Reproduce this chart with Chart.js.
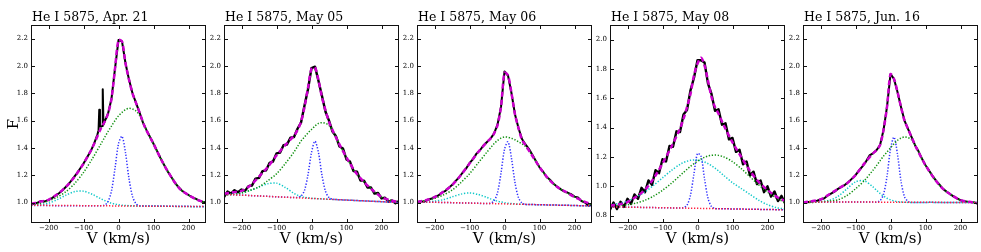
<!DOCTYPE html>
<html>
<head>
<meta charset="utf-8">
<script src="https://cdn.jsdelivr.net/npm/chart.js@4.4.0/dist/chart.umd.min.js"></script>
<style>
  html, body { margin: 0; padding: 0; background: #fff; }
  #wrap { position: relative; width: 981px; height: 252px; }
  #wrap canvas { position: absolute; left: 0; top: 0; }
</style>
</head>
<body>
<div id="wrap">
  <canvas id="p0" width="981" height="252"></canvas>
  <canvas id="p1" width="981" height="252"></canvas>
  <canvas id="p2" width="981" height="252"></canvas>
  <canvas id="p3" width="981" height="252"></canvas>
  <canvas id="p4" width="981" height="252"></canvas>
</div>
<script>
// panel titles
const TITLES = ['He I 5875, Apr. 21', 'He I 5875, May 05', 'He I 5875, May 06', 'He I 5875, May 08', 'He I 5875, Jun. 16'];
const Y_MIN = [0.85, 0.85, 0.85, 0.75, 0.85];
const Y_MAX = [2.3, 2.3, 2.3, 2.1, 2.3];
const X_TICKS = [-200, -100, 0, 100, 200];
const Y_TICKS = [1.0, 1.2, 1.4, 1.6, 1.8, 2.0, 2.2];
const Y_TICKS_MAY08 = [0.8, 1.0, 1.2, 1.4, 1.6, 1.8, 2.0];

// velocity grids (km/s)
const V_OBS = [-250, -240, -230, -220, -210, -200, -190, -180, -170, -160,
  -150, -140, -130, -120, -110, -100, -90, -80, -70, -60,
  -50, -40, -30, -20, -10, 0, 10, 20, 30, 40,
  50, 60, 70, 80, 90, 100, 110, 120, 130, 140,
  150, 160, 170, 180, 190, 200, 210, 220, 230, 240, 250];
const V_COMP = [-250, -225, -200, -175, -150, -125, -100, -75, -50, -40, -30, -20, -10, 0,
  10, 20, 30, 40, 50, 60, 75, 100, 125, 150, 175, 200, 225, 250];
const V_CONT = [-250, 250];

// observed profiles (black)
const OBS_APR21 = [0.985, 0.99, 1.0, 1.012, 1.008, 1.02, 1.032, 1.05, 1.068, 1.09,
  1.115, 1.143, 1.176, 1.21, 1.247, 1.285, 1.33, 1.373, 1.43, 1.50,
  1.555, 1.59, 1.65, 1.76, 1.98, 2.19, 2.18, 2.02, 1.90, 1.80,
  1.73, 1.66, 1.585, 1.53, 1.48, 1.43, 1.378, 1.325, 1.277, 1.23,
  1.19, 1.15, 1.117, 1.09, 1.07, 1.055, 1.04, 1.028, 1.015, 1.006, 1.0];
const SPIKES_APR21 = [[-57, 1.53], [-55, 1.68], [-53, 1.56], [-47, 1.56], [-45, 1.83], [-43, 1.57]];
const OBS_MAY05 = [1.04, 1.08, 1.065, 1.09, 1.075, 1.095, 1.085, 1.12, 1.125, 1.175,
  1.18, 1.23, 1.235, 1.29, 1.30, 1.36, 1.365, 1.42, 1.425, 1.475,
  1.48, 1.54, 1.585, 1.71, 1.83, 1.985, 1.995, 1.89, 1.78, 1.665,
  1.60, 1.52, 1.485, 1.41, 1.395, 1.315, 1.30, 1.23, 1.225, 1.16,
  1.16, 1.11, 1.11, 1.065, 1.07, 1.03, 1.035, 1.005, 1.015, 0.995, 1.01];
const OBS_MAY06 = [1.0, 1.01, 1.005, 1.02, 1.027, 1.04, 1.05, 1.07, 1.083, 1.107,
  1.128, 1.157, 1.183, 1.218, 1.248, 1.288, 1.318, 1.358, 1.383, 1.418,
  1.443, 1.468, 1.505, 1.57, 1.70, 1.96, 1.93, 1.80, 1.645, 1.545,
  1.465, 1.425, 1.392, 1.348, 1.302, 1.258, 1.227, 1.188, 1.167, 1.138,
  1.117, 1.098, 1.082, 1.073, 1.062, 1.043, 1.037, 1.01, 1.0, 0.977, 0.983];
const OBS_MAY08 = [0.84, 0.89, 0.845, 0.895, 0.86, 0.915, 0.88, 0.945, 0.915, 0.99,
  0.96, 1.04, 1.01, 1.11, 1.09, 1.185, 1.17, 1.275, 1.27, 1.375,
  1.37, 1.49, 1.52, 1.655, 1.74, 1.86, 1.86, 1.845, 1.70, 1.63,
  1.515, 1.525, 1.42, 1.43, 1.32, 1.33, 1.235, 1.25, 1.15, 1.17,
  1.075, 1.10, 1.015, 1.04, 0.96, 1.0, 0.93, 0.965, 0.9, 0.935, 0.885];
const OBS_JUN16 = [0.995, 1.0, 1.006, 1.01, 1.013, 1.022, 1.03, 1.05, 1.065, 1.08,
  1.10, 1.115, 1.13, 1.15, 1.175, 1.20, 1.235, 1.265, 1.30, 1.345,
  1.36, 1.383, 1.42, 1.53, 1.70, 1.94, 1.905, 1.81, 1.70, 1.60,
  1.54, 1.48, 1.42, 1.375, 1.32, 1.273, 1.235, 1.195, 1.16, 1.13,
  1.10, 1.08, 1.062, 1.045, 1.03, 1.017, 1.01, 1.005, 1.003, 1.0, 0.99];

// total fit (magenta dashed)
const FIT_APR21 = [0.99, 1.005, 1.02, 1.06, 1.115, 1.19, 1.285, 1.40, 1.545, 1.59, 1.65, 1.76, 1.98, 2.19, 2.18, 2.02, 1.90, 1.80, 1.73, 1.66, 1.555, 1.43, 1.30, 1.19, 1.10, 1.055, 1.02, 1.0];
const FIT_MAY05 = [1.065, 1.075, 1.085, 1.125, 1.19, 1.26, 1.345, 1.42, 1.49, 1.53, 1.59, 1.70, 1.84, 1.98, 1.99, 1.895, 1.77, 1.675, 1.59, 1.53, 1.45, 1.33, 1.225, 1.15, 1.09, 1.04, 1.017, 1.005];
const FIT_MAY06 = [1.005, 1.017, 1.04, 1.078, 1.127, 1.20, 1.285, 1.37, 1.444, 1.468, 1.505, 1.566, 1.70, 1.95, 1.93, 1.80, 1.645, 1.545, 1.46, 1.42, 1.36, 1.26, 1.175, 1.115, 1.078, 1.04, 1.01, 0.985];
const FIT_MAY08 = [0.868, 0.876, 0.893, 0.93, 0.976, 1.055, 1.155, 1.268, 1.393, 1.46, 1.54, 1.63, 1.757, 1.836, 1.877, 1.825, 1.72, 1.61, 1.54, 1.495, 1.416, 1.30, 1.20, 1.105, 1.03, 0.975, 0.93, 0.90];
const FIT_JUN16 = [1.0, 1.01, 1.022, 1.06, 1.10, 1.14, 1.20, 1.285, 1.36, 1.383, 1.42, 1.53, 1.70, 1.94, 1.905, 1.81, 1.70, 1.60, 1.54, 1.48, 1.395, 1.273, 1.176, 1.10, 1.054, 1.017, 1.005, 0.995];

// broad component (green dotted)
const GREEN_APR21 = [0.985, 0.995, 1.012, 1.04, 1.08, 1.14, 1.22, 1.32, 1.43, 1.475, 1.52, 1.56, 1.60, 1.635, 1.66, 1.68, 1.69, 1.685, 1.67, 1.64, 1.555, 1.43, 1.30, 1.19, 1.10, 1.055, 1.02, 1.0];
const GREEN_MAY05 = [1.055, 1.06, 1.07, 1.09, 1.115, 1.16, 1.21, 1.285, 1.37, 1.41, 1.45, 1.48, 1.51, 1.535, 1.56, 1.58, 1.585, 1.58, 1.565, 1.53, 1.45, 1.33, 1.225, 1.15, 1.09, 1.04, 1.017, 1.005];
const GREEN_MAY06 = [1.005, 1.015, 1.03, 1.055, 1.09, 1.145, 1.21, 1.29, 1.37, 1.40, 1.43, 1.455, 1.472, 1.48, 1.478, 1.47, 1.46, 1.445, 1.43, 1.41, 1.36, 1.26, 1.175, 1.115, 1.075, 1.04, 1.01, 0.985];
const GREEN_MAY08 = [0.864, 0.867, 0.874, 0.886, 0.905, 0.934, 0.973, 1.02, 1.073, 1.095, 1.116, 1.137, 1.155, 1.172, 1.187, 1.198, 1.207, 1.211, 1.213, 1.211, 1.201, 1.168, 1.121, 1.065, 1.01, 0.961, 0.92, 0.889];
const GREEN_JUN16 = [1.0, 1.0, 1.005, 1.01, 1.02, 1.05, 1.10, 1.16, 1.237, 1.27, 1.305, 1.34, 1.37, 1.40, 1.43, 1.455, 1.472, 1.48, 1.475, 1.46, 1.40, 1.273, 1.176, 1.10, 1.054, 1.017, 1.005, 0.998];

// narrow component (blue dotted)
const BLUE_APR21 = [0.978, 0.978, 0.978, 0.977, 0.977, 0.977, 0.976, 0.976, 0.976, 0.981, 1.006, 1.086, 1.25, 1.43, 1.485, 1.364, 1.175, 1.045, 0.991, 0.976, 0.975, 0.975, 0.974, 0.973, 0.972, 0.972, 0.971, 0.97];
const BLUE_MAY05 = [1.06, 1.057, 1.054, 1.051, 1.048, 1.045, 1.042, 1.039, 1.036, 1.037, 1.046, 1.089, 1.204, 1.366, 1.449, 1.364, 1.199, 1.082, 1.036, 1.025, 1.021, 1.018, 1.015, 1.012, 1.009, 1.006, 1.003, 1.0];
const BLUE_MAY06 = [1.005, 1.003, 1.002, 1.0, 0.999, 0.997, 0.996, 0.994, 0.993, 0.995, 1.011, 1.072, 1.215, 1.389, 1.445, 1.323, 1.145, 1.035, 0.996, 0.986, 0.985, 0.984, 0.982, 0.981, 0.98, 0.978, 0.976, 0.975];
const BLUE_MAY08 = [0.86, 0.859, 0.858, 0.857, 0.856, 0.855, 0.854, 0.853, 0.852, 0.855, 0.871, 0.941, 1.087, 1.224, 1.206, 1.052, 0.919, 0.862, 0.849, 0.848, 0.847, 0.846, 0.845, 0.844, 0.843, 0.842, 0.841, 0.84];
const BLUE_JUN16 = [1.005, 1.005, 1.004, 1.004, 1.004, 1.004, 1.003, 1.003, 1.003, 1.003, 1.013, 1.059, 1.192, 1.391, 1.479, 1.353, 1.157, 1.042, 1.008, 1.001, 1.001, 1.001, 1.001, 1.0, 1.0, 1.0, 1.0, 1.0];

// blue-shifted component (cyan dotted)
const CYAN_APR21 = [0.985, 0.986, 0.995, 1.021, 1.054, 1.08, 1.083, 1.06, 1.027, 1.015, 1.004, 0.995, 0.989, 0.984, 0.98, 0.978, 0.977, 0.976, 0.975, 0.975, 0.974, 0.974, 0.973, 0.972, 0.971, 0.97, 0.969, 0.968];
const CYAN_MAY05 = [1.061, 1.062, 1.07, 1.088, 1.114, 1.137, 1.142, 1.11, 1.067, 1.054, 1.045, 1.038, 1.034, 1.031, 1.029, 1.028, 1.026, 1.025, 1.024, 1.023, 1.021, 1.018, 1.015, 1.012, 1.009, 1.006, 1.003, 1.0];
const CYAN_MAY06 = [1.005, 1.005, 1.01, 1.021, 1.041, 1.061, 1.07, 1.059, 1.037, 1.027, 1.018, 1.01, 1.004, 0.999, 0.995, 0.992, 0.99, 0.988, 0.987, 0.986, 0.985, 0.984, 0.982, 0.981, 0.98, 0.978, 0.976, 0.975];
const CYAN_MAY08 = [0.873, 0.883, 0.9, 0.926, 0.962, 1.008, 1.058, 1.108, 1.15, 1.163, 1.171, 1.178, 1.18, 1.179, 1.175, 1.166, 1.155, 1.14, 1.124, 1.105, 1.074, 1.025, 0.985, 0.945, 0.905, 0.875, 0.855, 0.845];
const CYAN_JUN16 = [1.005, 1.005, 1.006, 1.016, 1.045, 1.099, 1.151, 1.159, 1.114, 1.09, 1.067, 1.047, 1.031, 1.02, 1.012, 1.007, 1.004, 1.002, 1.001, 1.001, 1.001, 1.001, 1.001, 1.0, 1.0, 1.0, 1.0, 1.0];

// continuum (red dotted)
const RED_APR21 = [0.98, 0.97];
const RED_MAY05 = [1.06, 1.0];
const RED_MAY06 = [1.005, 0.975];
const RED_MAY08 = [0.86, 0.84];
const RED_JUN16 = [1.005, 1.0];

const PANELS = [
  { obs: OBS_APR21, extra: SPIKES_APR21, fit: FIT_APR21, g: GREEN_APR21, b: BLUE_APR21, c: CYAN_APR21, r: RED_APR21, yt: Y_TICKS, noisy: false },
  { obs: OBS_MAY05, extra: [], fit: FIT_MAY05, g: GREEN_MAY05, b: BLUE_MAY05, c: CYAN_MAY05, r: RED_MAY05, yt: Y_TICKS, noisy: true },
  { obs: OBS_MAY06, extra: [], fit: FIT_MAY06, g: GREEN_MAY06, b: BLUE_MAY06, c: CYAN_MAY06, r: RED_MAY06, yt: Y_TICKS, noisy: false },
  { obs: OBS_MAY08, extra: [], fit: FIT_MAY08, g: GREEN_MAY08, b: BLUE_MAY08, c: CYAN_MAY08, r: RED_MAY08, yt: Y_TICKS_MAY08, noisy: true },
  { obs: OBS_JUN16, extra: [], fit: FIT_JUN16, g: GREEN_JUN16, b: BLUE_JUN16, c: CYAN_JUN16, r: RED_JUN16, yt: Y_TICKS, noisy: false }
];

const SERIF = "'DejaVu Serif', 'Liberation Serif', serif";
const W = 981;

function pts(xs, ys) {
  return xs.map((x, i) => ({ x: x, y: ys[i] }));
}

function ds(data, color, width, dash, order, tension) {
  return {
    data: data, borderColor: color, borderWidth: width, borderDash: dash,
    pointRadius: 0, fill: false, tension: tension, order: order,
    borderCapStyle: 'butt', borderJoinStyle: 'round'
  };
}

// frame + inward ticks on all four sides + panel title
const frameTicks = {
  id: 'frameTicks',
  afterDatasetsDraw(chart, args, opts) {
    const { ctx, chartArea: a, scales: { x, y } } = chart;
    ctx.save();
    ctx.strokeStyle = '#111';
    ctx.lineWidth = 1;
    ctx.strokeRect(a.left + 0.5, a.top + 0.5, a.width - 1, a.height - 1);
    ctx.beginPath();
    x.ticks.forEach(t => {
      const px = Math.round(x.getPixelForValue(t.value)) + 0.5;
      ctx.moveTo(px, a.bottom); ctx.lineTo(px, a.bottom - 4);
      ctx.moveTo(px, a.top); ctx.lineTo(px, a.top + 4);
    });
    y.ticks.forEach(t => {
      const py = Math.round(y.getPixelForValue(t.value)) + 0.5;
      ctx.moveTo(a.left, py); ctx.lineTo(a.left + 4, py);
      ctx.moveTo(a.right, py); ctx.lineTo(a.right - 4, py);
    });
    ctx.stroke();
    ctx.fillStyle = '#000';
    ctx.font = '12.5px ' + SERIF;
    ctx.textAlign = 'left';
    ctx.textBaseline = 'alphabetic';
    ctx.fillText(opts.title, a.left + 1, a.top - 4);
    ctx.restore();
  }
};

PANELS.forEach((p, i) => {
  const left = 31 + 193 * i;
  const right = left + 175;
  const yw = i === 0 ? 31 : 20;
  const obsPts = pts(V_OBS, p.obs).concat(p.extra.map(e => ({ x: e[0], y: e[1] })))
    .sort((m, n) => m.x - n.x);

  new Chart(document.getElementById('p' + i), {
    type: 'line',
    data: {
      datasets: [
        ds(pts(V_COMP, p.fit), '#cc00cc', 2.5, [5, 3], 0, 0.3),
        ds(pts(V_CONT, p.r), '#ff2040', 1.5, [1.3, 1.7], 1, 0),
        ds(pts(V_COMP, p.g), '#109010', 1.5, [1.3, 1.7], 2, 0.3),
        ds(pts(V_COMP, p.b), '#3030ff', 1.5, [1.3, 1.7], 2, 0.3),
        ds(pts(V_COMP, p.c), '#10c8c8', 1.5, [1.3, 1.7], 2, 0.3),
        ds(obsPts, '#000000', p.noisy ? 2.4 : 2, [], 5, 0)
      ]
    },
    options: {
      responsive: false,
      animation: false,
      devicePixelRatio: 1,
      layout: { padding: { left: left - yw, right: W - right, top: 25, bottom: 0 } },
      plugins: {
        legend: { display: false },
        tooltip: { enabled: false },
        frameTicks: { title: TITLES[i] }
      },
      scales: {
        x: {
          type: 'linear', min: -250, max: 250,
          afterBuildTicks: s => { s.ticks = X_TICKS.map(v => ({ value: v })); },
          afterFit: s => { s.height = 29; },
          grid: { display: false, drawTicks: false },
          border: { display: false },
          ticks: {
            padding: 1, maxRotation: 0, autoSkip: false,
            color: '#000', font: { family: SERIF, size: 7 },
            callback: v => (v < 0 ? '\u2212' + Math.abs(v) : String(v))
          },
          title: {
            display: true, text: 'V (km/s)', color: '#000',
            font: { family: SERIF, size: 15 }, padding: { top: 0, bottom: 4 }
          }
        },
        y: {
          type: 'linear', min: Y_MIN[i], max: Y_MAX[i],
          afterBuildTicks: s => { s.ticks = p.yt.map(v => ({ value: v })); },
          afterFit: s => { s.width = yw; },
          grid: { display: false, drawTicks: false },
          border: { display: false },
          ticks: {
            padding: 3, autoSkip: false,
            color: '#000', font: { family: SERIF, size: 7 },
            callback: v => v.toFixed(1)
          },
          title: {
            display: i === 0, text: 'F', color: '#000',
            font: { family: SERIF, size: 15 }, padding: { top: 5, bottom: 0 }
          }
        }
      }
    },
    plugins: [frameTicks]
  });
});
</script>
</body>
</html>
